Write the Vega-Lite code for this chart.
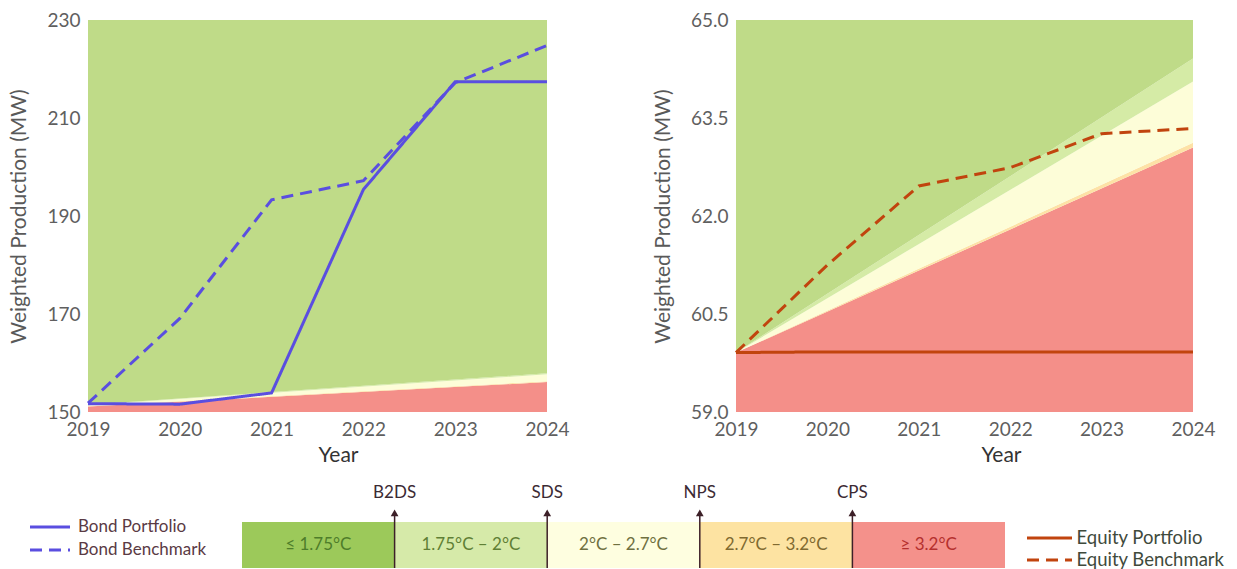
{
  "$schema": "https://vega.github.io/schema/vega-lite/v6.json",
  "background": "white",
  "padding": {"left": 5, "top": 11, "right": 0, "bottom": 0},
  "config": {
    "view": {"stroke": null},
    "font": "Lato",
    "axis": {
      "grid": false, "domain": false, "ticks": false,
      "labelFont": "Lato", "labelFontSize": 19, "labelColor": "#5f5f5f", "labelPadding": 8,
      "labelFlush": false, "labelOverlap": false,
      "titleFont": "Lato", "titleFontWeight": "normal", "titleFontSize": 21, "titleColor": "#595959"
    }
  },
  "datasets": {
    "bondZones": [
      {"year": 2019, "zone": "≥ 3.2°C", "lo": 150, "hi": 151.1},
      {"year": 2024, "zone": "≥ 3.2°C", "lo": 150, "hi": 156.1},
      {"year": 2019, "zone": "2.7°C – 3.2°C", "lo": 151.1, "hi": 151.2},
      {"year": 2024, "zone": "2.7°C – 3.2°C", "lo": 156.1, "hi": 156.3},
      {"year": 2019, "zone": "2°C – 2.7°C", "lo": 151.2, "hi": 151.4},
      {"year": 2024, "zone": "2°C – 2.7°C", "lo": 156.3, "hi": 157.7},
      {"year": 2019, "zone": "1.75°C – 2°C", "lo": 151.4, "hi": 151.5},
      {"year": 2024, "zone": "1.75°C – 2°C", "lo": 157.7, "hi": 157.9},
      {"year": 2019, "zone": "≤ 1.75°C", "lo": 151.5, "hi": 230},
      {"year": 2024, "zone": "≤ 1.75°C", "lo": 157.9, "hi": 230}
    ],
    "bondLines": [
      {"year": 2019, "series": "Bond Portfolio", "value": 151.7},
      {"year": 2020, "series": "Bond Portfolio", "value": 151.6},
      {"year": 2021, "series": "Bond Portfolio", "value": 153.9},
      {"year": 2022, "series": "Bond Portfolio", "value": 195.4},
      {"year": 2023, "series": "Bond Portfolio", "value": 217.4},
      {"year": 2024, "series": "Bond Portfolio", "value": 217.4},
      {"year": 2019, "series": "Bond Benchmark", "value": 151.8},
      {"year": 2020, "series": "Bond Benchmark", "value": 169.1},
      {"year": 2021, "series": "Bond Benchmark", "value": 193.3},
      {"year": 2022, "series": "Bond Benchmark", "value": 197.2},
      {"year": 2023, "series": "Bond Benchmark", "value": 217.2},
      {"year": 2024, "series": "Bond Benchmark", "value": 224.8}
    ],
    "eqZones": [
      {"year": 2019, "zone": "≥ 3.2°C", "lo": 59, "hi": 59.91},
      {"year": 2024, "zone": "≥ 3.2°C", "lo": 59, "hi": 63.05},
      {"year": 2019, "zone": "2.7°C – 3.2°C", "lo": 59.91, "hi": 59.91},
      {"year": 2024, "zone": "2.7°C – 3.2°C", "lo": 63.05, "hi": 63.12},
      {"year": 2019, "zone": "2°C – 2.7°C", "lo": 59.91, "hi": 59.91},
      {"year": 2024, "zone": "2°C – 2.7°C", "lo": 63.12, "hi": 64.06},
      {"year": 2019, "zone": "1.75°C – 2°C", "lo": 59.91, "hi": 59.91},
      {"year": 2024, "zone": "1.75°C – 2°C", "lo": 64.06, "hi": 64.41},
      {"year": 2019, "zone": "≤ 1.75°C", "lo": 59.91, "hi": 65},
      {"year": 2024, "zone": "≤ 1.75°C", "lo": 64.41, "hi": 65}
    ],
    "eqLines": [
      {"year": 2019, "series": "Equity Portfolio", "value": 59.91},
      {"year": 2020, "series": "Equity Portfolio", "value": 59.92},
      {"year": 2021, "series": "Equity Portfolio", "value": 59.92},
      {"year": 2022, "series": "Equity Portfolio", "value": 59.92},
      {"year": 2023, "series": "Equity Portfolio", "value": 59.92},
      {"year": 2024, "series": "Equity Portfolio", "value": 59.92},
      {"year": 2019, "series": "Equity Benchmark", "value": 59.91},
      {"year": 2020, "series": "Equity Benchmark", "value": 61.25},
      {"year": 2021, "series": "Equity Benchmark", "value": 62.46},
      {"year": 2022, "series": "Equity Benchmark", "value": 62.74},
      {"year": 2023, "series": "Equity Benchmark", "value": 63.26},
      {"year": 2024, "series": "Equity Benchmark", "value": 63.34}
    ],
    "bondKeys": [
      {"series": "Bond Portfolio"},
      {"series": "Bond Benchmark"}
    ],
    "eqKeys": [
      {"series": "Equity Portfolio"},
      {"series": "Equity Benchmark"}
    ],
    "bands": [
      {"band": "≤ 1.75°C"},
      {"band": "1.75°C – 2°C"},
      {"band": "2°C – 2.7°C"},
      {"band": "2.7°C – 3.2°C"},
      {"band": "≥ 3.2°C"}
    ],
    "scenarios": [
      {"scenario": "B2DS", "edge": "1.75°C – 2°C"},
      {"scenario": "SDS", "edge": "2°C – 2.7°C"},
      {"scenario": "NPS", "edge": "2.7°C – 3.2°C"},
      {"scenario": "CPS", "edge": "≥ 3.2°C"}
    ]
  },
  "bounds": "full",
  "spacing": 19,
  "vconcat": [
    {
      "bounds": "full",
      "spacing": -4,
      "hconcat": [
        {
          "width": 1,
          "height": 1,
          "data": {"values": [{"k": 0}]},
          "mark": {"type": "point", "opacity": 0},
          "encoding": {}
        },
        {
          "bounds": "flush",
          "spacing": 189,
          "hconcat": [
            {
              "width": 459,
              "height": 392,
              "layer": [
                {
                  "data": {"name": "bondZones"},
                  "mark": {"type": "area", "opacity": 1},
                  "encoding": {
                    "x": {"field": "year", "type": "quantitative",
                      "scale": {"domain": [2019, 2024], "nice": false, "zero": false},
                      "axis": {"values": [2019, 2020, 2021, 2022, 2023, 2024], "format": "d", "title": "Year", "titleColor": "#333333", "titlePadding": 5, "titleX": 250}},
                    "y": {"field": "lo", "type": "quantitative",
                      "scale": {"domain": [150, 230], "nice": false, "zero": false},
                      "axis": {"values": [150, 170, 190, 210, 230], "title": "Weighted Production (MW)", "titlePadding": 17}},
                    "y2": {"field": "hi"},
                    "color": {"field": "zone", "type": "nominal",
                      "scale": {"domain": ["≤ 1.75°C", "1.75°C – 2°C", "2°C – 2.7°C", "2.7°C – 3.2°C", "≥ 3.2°C"],
                                "range": ["#bfdb88", "#d5eba6", "#fdfdd8", "#fde2a6", "#f48f89"]},
                      "legend": null}
                  }
                },
                {
                  "data": {"name": "bondLines"},
                  "mark": {"type": "line", "color": "#5a4ee0", "strokeWidth": 3},
                  "encoding": {
                    "x": {"field": "year", "type": "quantitative"},
                    "y": {"field": "value", "type": "quantitative"},
                    "strokeDash": {"field": "series", "type": "nominal",
                      "scale": {"domain": ["Bond Portfolio", "Bond Benchmark"], "range": [[1, 0], [12, 7]]},
                      "legend": null}
                  }
                }
              ]
            },
            {
              "width": 457,
              "height": 392,
              "layer": [
                {
                  "data": {"name": "eqZones"},
                  "mark": {"type": "area", "opacity": 1},
                  "encoding": {
                    "x": {"field": "year", "type": "quantitative",
                      "scale": {"domain": [2019, 2024], "nice": false, "zero": false},
                      "axis": {"values": [2019, 2020, 2021, 2022, 2023, 2024], "format": "d", "title": "Year", "titleColor": "#333333", "titlePadding": 5, "titleX": 265}},
                    "y": {"field": "lo", "type": "quantitative",
                      "scale": {"domain": [59, 65], "nice": false, "zero": false},
                      "axis": {"values": [59, 60.5, 62, 63.5, 65], "format": ".1f", "title": "Weighted Production (MW)", "titlePadding": 17}},
                    "y2": {"field": "hi"},
                    "color": {"field": "zone", "type": "nominal",
                      "scale": {"domain": ["≤ 1.75°C", "1.75°C – 2°C", "2°C – 2.7°C", "2.7°C – 3.2°C", "≥ 3.2°C"],
                                "range": ["#bfdb88", "#d5eba6", "#fdfdd8", "#fde2a6", "#f48f89"]},
                      "legend": null}
                  }
                },
                {
                  "data": {"name": "eqLines"},
                  "mark": {"type": "line", "color": "#c1440e", "strokeWidth": 3},
                  "encoding": {
                    "x": {"field": "year", "type": "quantitative"},
                    "y": {"field": "value", "type": "quantitative"},
                    "strokeDash": {"field": "series", "type": "nominal",
                      "scale": {"domain": ["Equity Portfolio", "Equity Benchmark"], "range": [[1, 0], [10, 7]]},
                      "legend": null}
                  }
                }
              ]
            }
          ]
        }
      ]
    },
    {
      "bounds": "full",
      "spacing": 0,
      "hconcat": [
        {
          "bounds": "flush",
          "spacing": 150,
          "hconcat": [
            {
              "width": 84,
              "height": 33,
              "data": {"name": "bondKeys"},
              "layer": [
                {
                  "mark": {"type": "point", "shape": "stroke", "size": 1600, "strokeWidth": 3, "color": "#5a4ee0", "opacity": 1},
                  "encoding": {
                    "y": {"field": "series", "type": "nominal", "scale": {"type": "point", "domain": ["Bond Portfolio", "Bond Benchmark"], "padding": 0.217}, "axis": null},
                    "strokeDash": {"field": "series", "type": "nominal",
                      "scale": {"domain": ["Bond Portfolio", "Bond Benchmark"], "range": [[1, 0], [8, 5]]}, "legend": null}
                  }
                },
                {
                  "mark": {"type": "text", "font": "Lato", "fontSize": 17, "color": "#5a3a44", "align": "left", "dx": 28},
                  "encoding": {
                    "y": {"field": "series", "type": "nominal", "axis": null},
                    "text": {"field": "series"}
                  }
                }
              ]
            },
            {
              "width": 763,
              "height": 46,
              "resolve": {"scale": {"color": "independent"}},
              "layer": [
                {
                  "data": {"name": "bands"},
                  "mark": {"type": "rect"},
                  "encoding": {
                    "x": {"field": "band", "type": "nominal",
                      "scale": {"domain": ["≤ 1.75°C", "1.75°C – 2°C", "2°C – 2.7°C", "2.7°C – 3.2°C", "≥ 3.2°C"], "paddingInner": 0, "paddingOuter": 0},
                      "axis": null},
                    "y": {"datum": 0, "type": "quantitative", "scale": {"domain": [0, 1], "nice": false, "zero": false}, "axis": null},
                    "y2": {"datum": 1},
                    "color": {"field": "band", "type": "nominal",
                      "scale": {"domain": ["≤ 1.75°C", "1.75°C – 2°C", "2°C – 2.7°C", "2.7°C – 3.2°C", "≥ 3.2°C"],
                                "range": ["#9cc95a", "#d6eaa9", "#fefee0", "#fde3a2", "#f4918b"]},
                      "legend": null}
                  }
                },
                {
                  "data": {"name": "bands"},
                  "mark": {"type": "text", "font": "Lato", "fontSize": 17},
                  "encoding": {
                    "x": {"field": "band", "type": "nominal", "axis": null},
                    "y": {"datum": 0.5, "type": "quantitative"},
                    "text": {"field": "band"},
                    "color": {"field": "band", "type": "nominal",
                      "scale": {"domain": ["≤ 1.75°C", "1.75°C – 2°C", "2°C – 2.7°C", "2.7°C – 3.2°C", "≥ 3.2°C"],
                                "range": ["#4e7d2a", "#5f7f35", "#6f7040", "#806a30", "#b5302e"]},
                      "legend": null}
                  }
                },
                {
                  "data": {"name": "scenarios"},
                  "mark": {"type": "rule", "color": "#3d2028", "strokeWidth": 1.5},
                  "encoding": {
                    "x": {"field": "edge", "type": "nominal", "bandPosition": 0, "axis": null},
                    "y": {"datum": 0, "type": "quantitative"},
                    "y2": {"datum": 1.15}
                  }
                },
                {
                  "data": {"name": "scenarios"},
                  "mark": {"type": "point", "shape": "triangle-up", "filled": true, "color": "#3d2028", "size": 60, "opacity": 1},
                  "encoding": {
                    "x": {"field": "edge", "type": "nominal", "bandPosition": 0, "axis": null},
                    "y": {"datum": 1.2, "type": "quantitative"}
                  }
                },
                {
                  "data": {"name": "scenarios"},
                  "mark": {"type": "text", "font": "Lato", "fontSize": 17, "color": "#3b2a33"},
                  "encoding": {
                    "x": {"field": "edge", "type": "nominal", "bandPosition": 0, "axis": null},
                    "y": {"datum": 1.62, "type": "quantitative"},
                    "text": {"field": "scenario"}
                  }
                }
              ]
            }
          ]
        },
        {
          "width": 89,
          "height": 54,
          "data": {"name": "eqKeys"},
          "layer": [
            {
              "mark": {"type": "point", "shape": "stroke", "size": 2025, "strokeWidth": 3, "color": "#c1440e", "opacity": 1},
              "encoding": {
                "y": {"field": "series", "type": "nominal", "scale": {"type": "point", "domain": ["Equity Portfolio", "Equity Benchmark"], "padding": 0.727}, "axis": null},
                "strokeDash": {"field": "series", "type": "nominal",
                  "scale": {"domain": ["Equity Portfolio", "Equity Benchmark"], "range": [[1, 0], [8, 4]]}, "legend": null}
              }
            },
            {
              "mark": {"type": "text", "font": "Lato", "fontSize": 18.5, "color": "#3f4a3c", "align": "left", "dx": 27},
              "encoding": {
                "y": {"field": "series", "type": "nominal", "axis": null},
                "text": {"field": "series"}
              }
            }
          ]
        }
      ]
    }
  ]
}
